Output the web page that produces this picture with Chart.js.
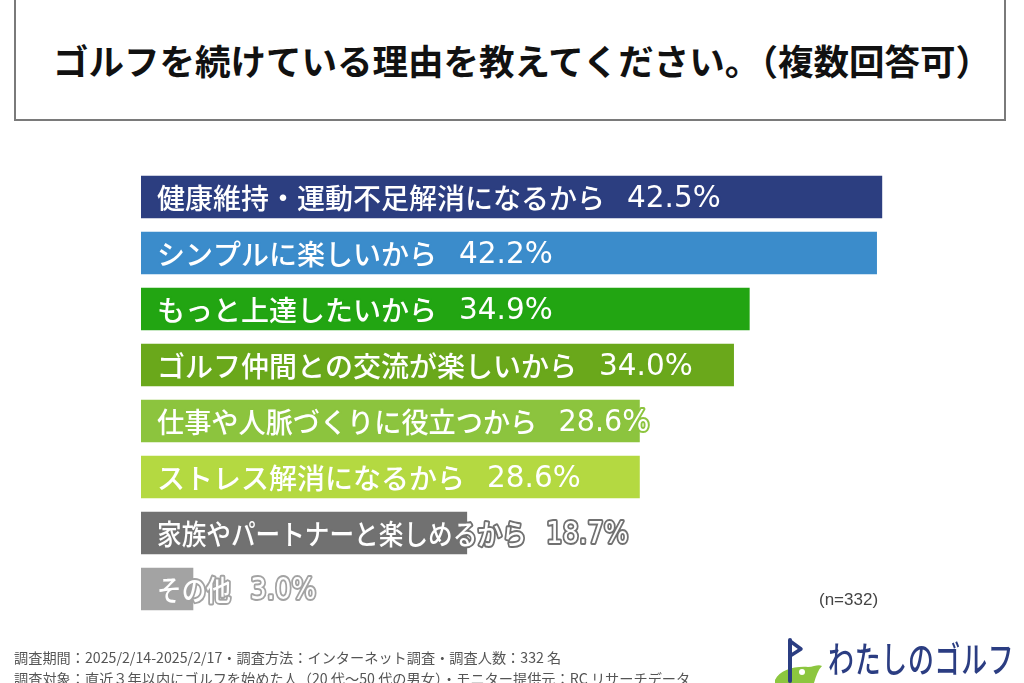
<!DOCTYPE html>
<html lang="ja">
<head>
<meta charset="utf-8">
<script src="https://cdn.jsdelivr.net/npm/chart.js@4.4.1/dist/chart.umd.min.js"></script>
<style>
  html, body { margin: 0; padding: 0; background: #fff; }
  body { width: 1024px; height: 683px; position: relative; overflow: hidden;
         font-family: "Noto Sans CJK JP", "Noto Sans", sans-serif; }
  #titlebox { position: absolute; left: 14px; top: -10px; width: 992px; height: 131px;
              border: 2px solid #7a7a7a; box-sizing: border-box; background: #fff; }
  #titlebox div { position: absolute; left: 24px; right: 0; top: 44px; text-align: center;
                  font-size: 35.5px; font-weight: 700; color: #111; line-height: 48px; }
  #chartwrap { position: absolute; left: 0; top: 0; width: 1024px; height: 683px; }
  #n { position: absolute; left: 819px; top: 590px; font-size: 17px; color: #444;
       font-family: "Liberation Sans", Arial, sans-serif; }
  .foot { position: absolute; left: 14px; font-size: 14.2px; color: #555; white-space: nowrap; }
  #logo { position: absolute; left: 772px; top: 636px; width: 252px; height: 47px; }
  #logotext { position: absolute; left: 828px; top: 634px; font-size: 36px; font-weight: 500;
              color: #2b3d82; transform: scaleX(0.72); transform-origin: left top;
              letter-spacing: 1px; white-space: nowrap; line-height: 46px; }
</style>
</head>
<body>
<div id="titlebox"><div>ゴルフを続けている理由を教えてください。（複数回答可）</div></div>
<div id="chartwrap"><canvas id="myChart"></canvas></div>
<div id="n">(n=332)</div>
<div class="foot" style="top:647px">調査期間：2025/2/14-2025/2/17・調査方法：インターネット調査・調査人数：332 名</div>
<div class="foot" style="top:668px">調査対象：直近３年以内にゴルフを始めた人（20 代〜50 代の男女）・モニター提供元：RC リサーチデータ</div>
<svg id="logo" viewBox="0 0 252 47" width="252" height="47">
  <path d="M3 44 C8 34 22 30 36 31 C42 31 46 28 50 30 C46 34 44 40 42 47 L3 47 Z" fill="#8cc63f"/>
  <circle cx="30" cy="36" r="3" fill="#fff"/>
  <line x1="18" y1="4" x2="18" y2="45" stroke="#2b3d82" stroke-width="4" stroke-linecap="round"/>
  <path d="M18 5 L29 13 L18 20" fill="none" stroke="#2b3d82" stroke-width="3.5" stroke-linejoin="round"/>
</svg>
<div id="logotext">わたしのゴルフ</div>

<script>
// 回答項目と割合（%）
const categories = [
  "健康維持・運動不足解消になるから",
  "シンプルに楽しいから",
  "もっと上達したいから",
  "ゴルフ仲間との交流が楽しいから",
  "仕事や人脈づくりに役立つから",
  "ストレス解消になるから",
  "家族やパートナーと楽しめるから",
  "その他"
];
const values = [42.5, 42.2, 34.9, 34.0, 28.6, 28.6, 18.7, 3.0];
const barColors = ["#2c3e80", "#3b8ccb", "#22a512", "#6aa81b", "#8cc43e", "#b4d941", "#717171", "#a3a3a3"];
// horizontal squeeze of each label (the lower ones are set a little narrower)
const labelSqueeze = [1, 1, 1, 1, 0.97, 1, 0.88, 0.88];

// bar labels: "項目  xx.x%" in white, outlined with bar colour
const barLabels = {
  id: 'barLabels',
  afterDatasetsDraw(chart) {
    const ctx = chart.ctx;
    const meta = chart.getDatasetMeta(0);
    const left = chart.chartArea.left;
    ctx.textBaseline = 'middle';
    ctx.lineJoin = 'round';
    meta.data.forEach(function (bar, i) {
      const y = bar.y + 1;
      const pct = values[i].toFixed(1) + "%";
      ctx.save();
      ctx.translate(left + 16, 0);
      ctx.scale(labelSqueeze[i], 1);
      ctx.font = '500 28px "Noto Sans CJK JP", sans-serif';
      const w = ctx.measureText(categories[i]).width;
      ctx.strokeStyle = barColors[i];
      ctx.lineWidth = 4;
      ctx.fillStyle = '#fff';
      ctx.strokeText(categories[i], 0, y);
      ctx.fillText(categories[i], 0, y);
      ctx.font = '29.5px "DejaVu Sans", sans-serif';
      ctx.strokeText(pct, w + 22, y + 1);
      ctx.fillText(pct, w + 22, y + 1);
      ctx.restore();
    });
  }
};

var ctx = document.getElementById("myChart");
var myChart = new Chart(ctx, {
  type: 'bar',
  data: {
    labels: categories,
    datasets: [{
      data: values,
      backgroundColor: barColors,
      borderWidth: 0,
      categoryPercentage: 1,
      barPercentage: 0.76
    }]
  },
  options: {
    indexAxis: 'y',
    responsive: true,
    maintainAspectRatio: false,
    animation: false,
    layout: { padding: { left: 141, right: 11, top: 169, bottom: 66 } },
    plugins: { legend: { display: false }, tooltip: { enabled: false } },
    scales: {
      x: { display: false, min: 0, max: 50 },
      y: { display: false }
    }
  },
  plugins: [barLabels]
});
</script>
</body>
</html>
